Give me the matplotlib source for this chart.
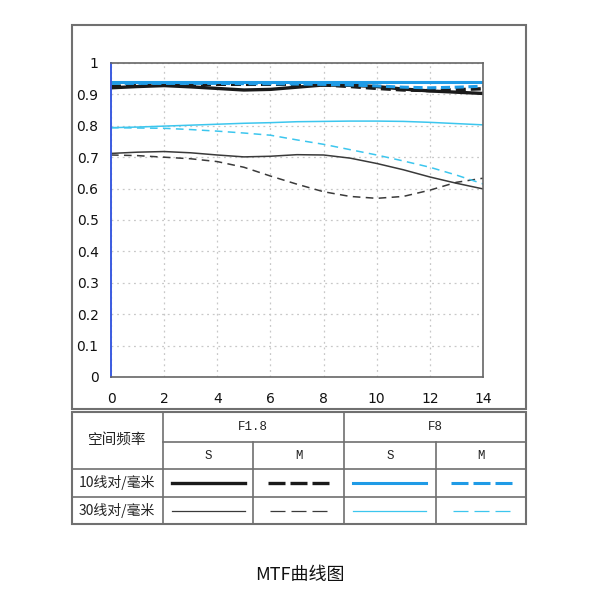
import numpy as np
import matplotlib.pyplot as plt
from matplotlib.ticker import FuncFormatter

plt.rcParams['font.family'] = ['DejaVu Sans', 'Noto Sans CJK SC']

# MTF data (spatial position 0..14 mm)
pos = [0, 1, 2, 3, 4, 5, 6, 7, 8, 9, 10, 11, 12, 13, 14]

f18_s_10 = [0.921, 0.925, 0.928, 0.924, 0.919, 0.914, 0.916, 0.923, 0.930, 0.929, 0.925, 0.917, 0.911, 0.907, 0.903]
f18_m_10 = [0.925, 0.928, 0.930, 0.931, 0.932, 0.932, 0.932, 0.932, 0.930, 0.925, 0.919, 0.914, 0.912, 0.915, 0.918]
f8_s_10 = [0.938, 0.938, 0.938, 0.938, 0.938, 0.938, 0.938, 0.938, 0.938, 0.938, 0.938, 0.938, 0.938, 0.938, 0.938]
f8_m_10 = [0.935, 0.935, 0.935, 0.935, 0.935, 0.934, 0.934, 0.933, 0.932, 0.930, 0.927, 0.923, 0.921, 0.923, 0.926]

f18_s_30 = [0.712, 0.716, 0.718, 0.714, 0.707, 0.701, 0.703, 0.708, 0.707, 0.697, 0.680, 0.660, 0.637, 0.617, 0.599]
f18_m_30 = [0.707, 0.705, 0.700, 0.695, 0.686, 0.668, 0.640, 0.614, 0.590, 0.575, 0.569, 0.575, 0.595, 0.620, 0.633]
f8_s_30 = [0.794, 0.796, 0.799, 0.802, 0.805, 0.808, 0.810, 0.813, 0.814, 0.815, 0.815, 0.814, 0.811, 0.807, 0.803]
f8_m_30 = [0.794, 0.793, 0.792, 0.788, 0.783, 0.777, 0.770, 0.755, 0.741, 0.724, 0.707, 0.688, 0.668, 0.643, 0.615]

x_ticks = [0, 2, 4, 6, 8, 10, 12, 14]
y_ticks = [0, 0.1, 0.2, 0.3, 0.4, 0.5, 0.6, 0.7, 0.8, 0.9, 1.0]

col_groups = ['F1.8', 'F8']
col_sub = ['S', 'M', 'S', 'M']
row_labels = ['10线对/毫米', '30线对/毫米']
header_label = '空间频率'
title = 'MTF曲线图'

BLACK = '#1a1a1a'
GREY = '#3a3a3a'
BLUE = '#1f9be6'
CYAN = '#3cc6ee'
EDGE = '#707070'

fig = plt.figure(figsize=(6, 6), dpi=100)

# overlay in pixel coordinates for the frame and the key table
bg = fig.add_axes([0, 0, 1, 1])
bg.set_xlim(0, 600)
bg.set_ylim(600, 0)
bg.axis('off')

bg.add_patch(plt.Rectangle((72, 25), 454, 384, fill=False, ec=EDGE, lw=1.5))

# table grid
tx = [72, 163, 253, 344, 436, 526]
bg.add_patch(plt.Rectangle((72, 412), 454, 112, fill=False, ec=EDGE, lw=1.5))
bg.plot([163, 163], [412, 524], color=EDGE, lw=1.2)
bg.plot([344, 344], [412, 524], color=EDGE, lw=1.2)
bg.plot([253, 253], [442, 524], color=EDGE, lw=1.2)
bg.plot([436, 436], [442, 524], color=EDGE, lw=1.2)
bg.plot([163, 526], [442, 442], color=EDGE, lw=1.2)
bg.plot([72, 526], [469, 469], color=EDGE, lw=1.2)
bg.plot([72, 526], [497, 497], color=EDGE, lw=1.2)

cjk = ['Noto Sans CJK SC', 'DejaVu Sans']
mono = ['Liberation Mono', 'DejaVu Sans Mono']
bg.text(117, 440, header_label, ha='center', va='center', fontsize=10.5, family=cjk, color='#222')
bg.text(253, 427, col_groups[0], ha='center', va='center', fontsize=9, family=mono, color='#222')
bg.text(435, 427, col_groups[1], ha='center', va='center', fontsize=9, family=mono, color='#222')
for i, s in enumerate(col_sub):
    bg.text((tx[i + 1] + tx[i + 2]) / 2, 456, s, ha='center', va='center',
            fontsize=9, family=mono, color='#222')
bg.text(117, 483, row_labels[0], ha='center', va='center', fontsize=10, family=cjk, color='#222')
bg.text(117, 511, row_labels[1], ha='center', va='center', fontsize=10, family=cjk, color='#222')

# key samples: (column, row, colour, width, dashed)
keys = [
    (0, 0, BLACK, 2.4, False), (1, 0, BLACK, 2.4, True),
    (2, 0, BLUE, 2.2, False), (3, 0, BLUE, 2.2, True),
    (0, 1, GREY, 0.9, False), (1, 1, GREY, 0.9, True),
    (2, 1, CYAN, 0.9, False), (3, 1, CYAN, 0.9, True),
]
px = 0.72  # points per pixel
for c, r, col, lw, dashed in keys:
    x0 = tx[c + 1]
    y = 483 if r == 0 else 511
    if not dashed:
        bg.plot([x0 + 9, x0 + 82], [y, y], color=col, lw=lw)
    else:
        dash, gap = (17, 5) if lw > 2 else (15, 6)
        span = 3 * dash + 2 * gap
        xs = x0 + (tx[c + 2] - x0 - span) / 2
        bg.plot([xs, xs + span], [y, y], color=col, lw=lw,
                dashes=(dash * px / lw, gap * px / lw))

bg.text(300, 575, title, ha='center', va='center', fontsize=13, family=cjk, color='#111')

# MTF axes
ax = fig.add_axes([0.185, 0.3717, 0.62, 0.5233])
ax.plot(pos, f18_s_30, color=GREY, lw=1.1)
ax.plot(pos, f18_m_30, color=GREY, lw=1.1, dashes=(5, 3.5))
ax.plot(pos, f8_s_30, color=CYAN, lw=1.1)
ax.plot(pos, f8_m_30, color=CYAN, lw=1.1, dashes=(5, 3.5))
ax.plot(pos, f18_s_10, color=BLACK, lw=2.4)
ax.plot(pos, f18_m_10, color=BLACK, lw=2.4, dashes=(3, 1.5))
ax.plot(pos, f8_s_10, color=BLUE, lw=2.2)
ax.plot(pos, f8_m_10, color=BLUE, lw=2.2, dashes=(3, 1.5))

ax.set_xlim(0, 14)
ax.set_ylim(0, 1)
ax.set_xticks(x_ticks)
ax.set_yticks(y_ticks)
ax.yaxis.set_major_formatter(FuncFormatter(lambda v, p: '%g' % round(v, 1)))
ax.tick_params(length=0, labelsize=10, colors='#111', pad=9)
ax.tick_params(axis='x', pad=11)
ax.grid(True, color='#c8c8c8', linestyle=(0, (1.5, 3)), lw=0.9)
for side in ['top', 'right', 'bottom']:
    ax.spines[side].set_color('#666')
    ax.spines[side].set_linewidth(1.2)
ax.spines['left'].set_color('#3b5be0')
ax.spines['left'].set_linewidth(1.4)

fig.savefig('out.png', dpi=100)
